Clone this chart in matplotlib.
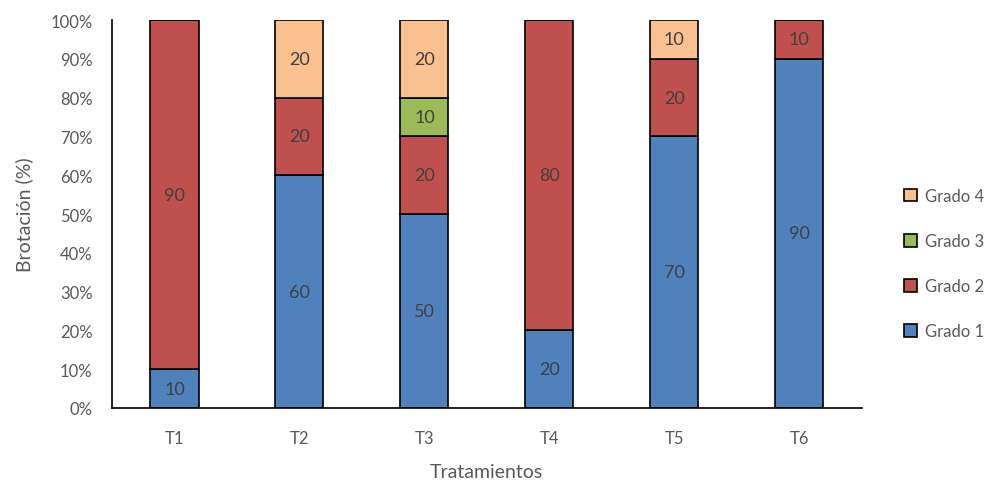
import numpy as np
import matplotlib.pyplot as plt
from matplotlib.ticker import PercentFormatter

plt.rcParams['font.family'] = ['Lato', 'DejaVu Sans']

tratamientos = ['T1', 'T2', 'T3', 'T4', 'T5', 'T6']
grado1 = [10, 60, 50, 20, 70, 90]
grado2 = [90, 20, 20, 80, 20, 10]
grado3 = [0, 0, 10, 0, 0, 0]
grado4 = [0, 20, 20, 0, 10, 0]

series = [('Grado 1', grado1, '#4F81BD'),
          ('Grado 2', grado2, '#C0504D'),
          ('Grado 3', grado3, '#9BBB59'),
          ('Grado 4', grado4, '#FAC090')]

gris = '#595959'

fig = plt.figure(figsize=(9.93, 4.81), dpi=100)
ax = fig.add_axes([0.1128, 0.1497, 0.755, 0.8066])

x = np.arange(len(tratamientos))
bottom = np.zeros(len(tratamientos))
for nombre, vals, color in series:
    vals = np.array(vals, dtype=float)
    ax.bar(x, vals, 0.385, bottom=bottom, color=color,
           edgecolor='black', linewidth=1.2, label=nombre)
    for xi, b, v in zip(x, bottom, vals):
        if v > 0:
            ax.text(xi, b + v / 2, f'{v:.0f}', ha='center', va='center',
                    fontsize=13, color='#404040')
    bottom += vals

ax.set_xlim(-0.5, len(tratamientos) - 0.5)
ax.set_ylim(0, 100)
ax.set_yticks(np.arange(0, 101, 10))
ax.yaxis.set_major_formatter(PercentFormatter(decimals=0))
ax.set_xticks(x)
ax.set_xticklabels(tratamientos)
ax.tick_params(length=0, labelsize=12, labelcolor=gris)
ax.tick_params(axis='y', pad=14)
ax.tick_params(axis='x', pad=16)

for s in ['top', 'right']:
    ax.spines[s].set_visible(False)
for s in ['left', 'bottom']:
    ax.spines[s].set_color('black')
    ax.spines[s].set_linewidth(1.2)

ax.set_xlabel('Tratamientos', fontsize=14, color=gris, labelpad=12)
ax.set_ylabel('Brotación (%)', fontsize=14, color=gris, labelpad=12)

handles, labels = ax.get_legend_handles_labels()
fig.legend(handles[::-1], labels[::-1], loc='center left',
           bbox_to_anchor=(0.895, 0.45), frameon=False,
           fontsize=12, labelcolor=gris, handlelength=0.8,
           handleheight=0.8, handletextpad=0.5, labelspacing=1.75)

fig.savefig('out.png', dpi=100)
